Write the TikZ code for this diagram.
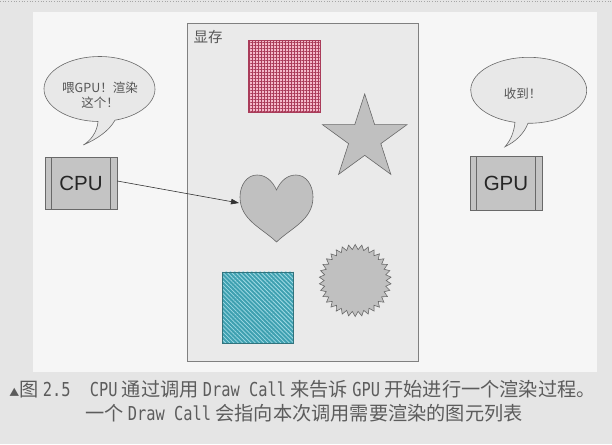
\documentclass[tikz,border=0pt]{standalone}
\usepackage{fontspec}
\setmainfont{Noto Sans CJK SC}
\newfontfamily\cjk{Noto Sans CJK SC}
\newfontfamily\arialf{Liberation Sans}
\newfontfamily\capl[FakeStretch=0.8]{DejaVu Sans Mono}
\usetikzlibrary{shapes.geometric,patterns.meta,arrows.meta}
\definecolor{bgout}{RGB}{229,229,229}
\definecolor{bgin}{RGB}{246,246,246}
\definecolor{memfill}{RGB}{234,234,234}
\definecolor{memline}{RGB}{128,128,128}
\definecolor{shapefill}{RGB}{192,192,192}
\definecolor{shapeline}{RGB}{105,105,105}
\definecolor{bubfill}{RGB}{232,232,232}
\definecolor{boxfill}{RGB}{196,196,196}
\definecolor{textgray}{RGB}{85,85,85}
\definecolor{capgray}{RGB}{92,92,92}
\definecolor{checkpink}{RGB}{244,185,202}
\definecolor{checkred}{RGB}{170,60,90}
\definecolor{tealbase}{RGB}{62,160,176}
\definecolor{teallight}{RGB}{160,218,228}
\definecolor{tealline}{RGB}{50,115,125}
\tikzset{
  membox/.style={draw=memline, fill=memfill, line width=0.7pt, inner sep=0pt},
  grayshape/.style={draw=shapeline, fill=shapefill, line width=0.6pt},
  bubble/.style={draw=shapeline, fill=bubfill, line width=0.6pt},
  bubtext/.style={text=textgray, font=\cjk\fontsize{12.5}{15}\selectfont, align=center, inner sep=0pt},
  chip/.style={draw=shapeline, fill=boxfill, line width=0.6pt, minimum width=72pt,
    font=\arialf\fontsize{20.5}{24}\selectfont, text=black!85, inner sep=0pt,
    path picture={
      \draw[shapeline, line width=0.5pt]
        ([xshift=6.5pt]path picture bounding box.north west) -- ([xshift=6.5pt]path picture bounding box.south west)
        ([xshift=-6.5pt]path picture bounding box.north east) -- ([xshift=-6.5pt]path picture bounding box.south east);
    }},
  captxt/.style={text=capgray, font=\cjk\fontsize{19.2}{23}\selectfont, inner sep=0pt},
  arrowline/.style={draw=black!80, line width=0.6pt, -{Triangle[length=8pt,width=5.5pt]}},
}
\begin{document}
\begin{tikzpicture}[x=1pt,y=-1pt]
\useasboundingbox (0,0) rectangle (612,444);
\fill[bgout] (0,0) rectangle (612,444);
\fill[bgin] (33,12) rectangle (597,372);
\draw[gray!70, dotted, line width=0.7pt] (0,1.5) -- (612,1.5);

% memory box
\node[membox, minimum width=231pt, minimum height=338pt, anchor=north west] (mem) at (186.7,22.7) {};
\node[text=textgray, font=\cjk\fontsize{14.5}{16}\selectfont, inner sep=0pt] (memlabel) at (208,37) {显存};

% red checked square
\node[minimum width=71.7pt, minimum height=71.7pt, anchor=north west, inner sep=0pt,
  preaction={fill=checkpink},
  preaction={pattern={Lines[angle=0,distance=3pt,line width=0.65pt]}, pattern color=checkred},
  pattern={Lines[angle=90,distance=3pt,line width=0.65pt]}, pattern color=checkred,
  draw=checkred, line width=0.5pt] (redsq) at (248.3,40) {};

% star
\node[star, star points=5, star point ratio=2.618, minimum size=88.8pt, inner sep=0pt, grayshape] (bigstar) at (364.7,138.4) {};

% heart
\draw[grayshape] (276.5,190) .. controls (272,180) and (265,175) .. (257,175)
  .. controls (247,175) and (240,185) .. (240,197)
  .. controls (240,220) and (262,228) .. (276.5,242)
  .. controls (291,228) and (313,220) .. (313,197)
  .. controls (313,185) and (306,175) .. (296,175)
  .. controls (288,175) and (281,180) .. cycle;
\coordinate (heartL) at (239,203);

% starburst
\node[star, star points=34, star point ratio=1.16, minimum size=72pt, inner sep=0pt, grayshape] (burst) at (355.2,280.5) {};

% teal square
\node[minimum width=71pt, minimum height=71.6pt, anchor=north west, inner sep=0pt,
  preaction={fill=tealbase},
  pattern={Lines[angle=-45,distance=3pt,line width=0.8pt]}, pattern color=teallight,
  draw=tealline, line width=0.5pt] (tealsq) at (222.3,271.7) {};

% left bubble
\draw[bubble] (114.98,120.21) arc[start angle=73.8, end angle=-268.5, x radius=55.5, y radius=32.5]
  .. controls (97,133) and (90,141) .. (83.3,145)
  .. controls (97,139) and (109,131) .. cycle;
\node[bubtext] (say1) at (100,95) {喂GPU！渲染\\这个！};

% right bubble
\draw[bubble] (527.99,123.3) arc[start angle=90.7, end angle=-256.3, x radius=58, y radius=33]
  .. controls (514,133) and (510,141) .. (505,146.7)
  .. controls (515,142) and (524,134) .. cycle;
\node[bubtext] (say2) at (522.7,93.3) {收到！};

% chips
\node[chip, minimum height=52pt] (cpu) at (81,183) {CPU};
\node[chip, minimum height=54pt] (gpu) at (506,183) {GPU};

% arrow
\draw[arrowline] ([yshift=2pt]cpu.east) -- (heartL);

% caption
\node[captxt] (cap1) at (302.5,389) {{\fontsize{10}{12}\selectfont ▲}图 {\capl 2.5}\hspace{1em}{\capl CPU} 通过调用 {\capl Draw Call} 来告诉 {\capl GPU} 开始进行一个渲染过程。};
\node[captxt] (cap2) at (304,413) {一个 {\capl Draw Call} 会指向本次调用需要渲染的图元列表};
\end{tikzpicture}
\end{document}
